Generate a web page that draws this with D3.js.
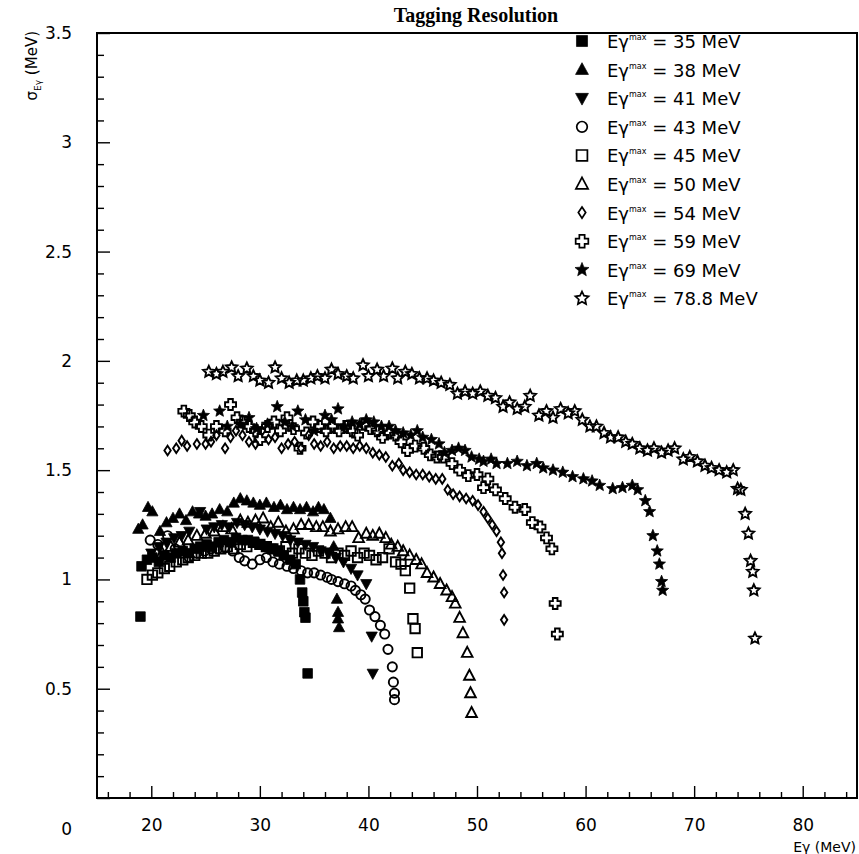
<!DOCTYPE html>
<html>
<head>
<meta charset="utf-8">
<script src="https://cdn.jsdelivr.net/npm/d3@7"></script>
<style>
body { margin: 0; background: #fff; }
svg text { font-family: "DejaVu Sans", "Liberation Sans", Arial, sans-serif; fill: #000; }
</style>
</head>
<body>
<svg id="drawing_region"></svg>
<script>
// beam end-point energies, one series each
const energies = ["35", "38", "41", "43", "45", "50", "54", "59", "69", "78.8"];
const markers = ["sqF", "triF", "triD", "circO", "sqO", "triO", "dia", "cross", "starF", "starO"];

// [E_gamma (MeV), sigma (MeV)]
const s35 = [[19.0,0.83],[19.1,1.06],[19.6,1.09],[20.1,1.10],[20.7,1.08],[21.2,1.11],[21.8,1.10],[22.3,1.12],[22.9,1.13],[23.4,1.12],[24.0,1.14],[24.5,1.15],[25.1,1.16],[25.6,1.15],[26.2,1.17],[26.7,1.18],[27.3,1.17],[27.8,1.19],[28.4,1.18],[28.9,1.18],[29.5,1.17],[30.0,1.16],[30.6,1.15],[31.1,1.14],[31.7,1.13],[32.2,1.11],[32.8,1.09],[33.3,1.07],[33.7,1.00],[33.9,0.94],[34.0,0.90],[34.1,0.85],[34.2,0.825],[34.4,0.57]];
const s38 = [[18.8,1.23],[19.2,1.25],[19.7,1.33],[20.1,1.31],[20.8,1.22],[21.4,1.26],[22.0,1.28],[22.6,1.30],[23.2,1.27],[23.8,1.31],[24.4,1.30],[25.0,1.29],[25.6,1.30],[26.3,1.32],[27.0,1.31],[27.6,1.35],[28.2,1.37],[28.8,1.36],[29.4,1.35],[30.0,1.34],[30.6,1.35],[31.3,1.33],[31.9,1.34],[32.5,1.32],[33.1,1.33],[33.7,1.32],[34.3,1.33],[34.9,1.31],[35.4,1.33],[35.9,1.32],[36.5,1.28],[36.8,1.15],[37.1,0.91],[37.2,0.85],[37.2,0.82],[37.3,0.78]];
const s41 = [[20.0,1.12],[20.7,1.15],[21.4,1.17],[22.1,1.19],[22.8,1.20],[23.5,1.22],[24.5,1.31],[25.1,1.23],[25.8,1.24],[26.5,1.25],[27.2,1.24],[27.9,1.26],[28.6,1.25],[29.3,1.24],[30.0,1.23],[30.7,1.22],[31.4,1.21],[32.1,1.20],[32.8,1.18],[33.5,1.17],[34.2,1.16],[34.9,1.15],[35.6,1.13],[36.3,1.12],[37.0,1.10],[37.7,1.08],[38.4,1.05],[39.0,1.02],[39.8,0.98],[40.3,0.74],[40.4,0.57]];
const s43 = [[19.9,1.18],[20.6,1.16],[21.5,1.20],[22.2,1.14],[22.8,1.12],[23.5,1.10],[24.2,1.12],[24.9,1.13],[25.5,1.14],[26.1,1.14],[26.8,1.145],[27.5,1.13],[28.1,1.10],[28.6,1.085],[29.3,1.07],[30.0,1.09],[30.6,1.10],[31.2,1.08],[31.8,1.07],[32.5,1.06],[33.1,1.05],[33.8,1.04],[34.4,1.03],[35.0,1.03],[35.6,1.02],[36.2,1.01],[36.6,1.00],[37.2,0.99],[37.8,0.98],[38.4,0.97],[38.8,0.95],[39.3,0.93],[39.7,0.91],[40.1,0.86],[40.6,0.83],[41.1,0.79],[41.5,0.75],[41.8,0.68],[42.2,0.60],[42.3,0.53],[42.4,0.48],[42.4,0.45]];
const s45 = [[19.6,1.00],[20.1,1.02],[20.6,1.03],[21.2,1.05],[21.7,1.06],[22.3,1.08],[22.9,1.09],[23.4,1.10],[24.0,1.11],[24.6,1.12],[25.2,1.12],[25.8,1.13],[26.4,1.14],[27.0,1.15],[27.6,1.14],[28.2,1.16],[28.8,1.15],[29.4,1.17],[30.0,1.16],[30.6,1.15],[31.2,1.14],[31.8,1.13],[32.4,1.15],[33.0,1.12],[33.6,1.14],[34.2,1.12],[34.8,1.11],[35.4,1.13],[36.0,1.12],[36.6,1.10],[37.2,1.12],[37.8,1.11],[38.4,1.13],[39.0,1.10],[39.6,1.12],[40.1,1.11],[40.7,1.09],[41.3,1.10],[41.9,1.14],[42.5,1.08],[43.0,1.07],[43.4,1.04],[43.8,0.96],[44.1,0.82],[44.3,0.775],[44.5,0.665]];
const s50 = [[21.0,1.12],[21.8,1.15],[22.6,1.17],[23.4,1.18],[24.2,1.20],[25.0,1.21],[25.8,1.22],[26.6,1.24],[27.4,1.23],[28.2,1.27],[28.9,1.26],[29.6,1.27],[30.3,1.28],[31.0,1.24],[31.7,1.26],[32.4,1.22],[33.1,1.23],[33.8,1.25],[34.5,1.25],[35.2,1.24],[35.8,1.24],[36.5,1.22],[37.2,1.23],[37.9,1.24],[38.5,1.24],[39.1,1.19],[39.8,1.21],[40.4,1.20],[41.0,1.21],[41.6,1.19],[42.1,1.16],[42.7,1.15],[43.2,1.13],[43.8,1.11],[44.4,1.09],[44.9,1.07],[45.4,1.03],[46.0,1.01],[46.6,0.98],[47.2,0.95],[47.7,0.92],[48.0,0.89],[48.4,0.825],[48.7,0.755],[49.1,0.665],[49.3,0.56],[49.4,0.48],[49.5,0.39]];
const s54 = [[21.5,1.59],[22.3,1.60],[22.8,1.635],[23.3,1.61],[24.2,1.62],[25.0,1.62],[25.5,1.63],[26.0,1.66],[26.8,1.60],[27.3,1.65],[27.8,1.68],[28.4,1.66],[29.0,1.63],[29.6,1.62],[30.2,1.68],[30.8,1.64],[31.4,1.65],[32.0,1.60],[32.6,1.62],[33.2,1.63],[33.8,1.60],[34.5,1.66],[35.0,1.62],[35.6,1.61],[36.2,1.63],[36.8,1.60],[37.4,1.61],[38.0,1.61],[38.6,1.60],[39.2,1.61],[39.8,1.60],[40.4,1.58],[41.0,1.57],[41.6,1.56],[42.2,1.52],[42.8,1.53],[43.2,1.50],[43.8,1.49],[44.4,1.48],[45.0,1.48],[45.6,1.47],[46.2,1.46],[46.8,1.46],[47.3,1.41],[47.8,1.39],[48.4,1.38],[49.0,1.37],[49.6,1.36],[50.1,1.34],[50.6,1.31],[51.0,1.28],[51.4,1.25],[51.8,1.22],[52.2,1.17],[52.3,1.12],[52.4,1.02],[52.5,0.94],[52.5,0.815]];
const s59 = [[23.0,1.77],[23.5,1.75],[24.0,1.72],[24.6,1.70],[25.3,1.66],[26.0,1.70],[26.8,1.68],[27.3,1.80],[27.9,1.74],[28.4,1.72],[29.0,1.70],[29.6,1.68],[30.0,1.64],[30.7,1.70],[31.3,1.72],[31.9,1.68],[32.5,1.74],[33.1,1.69],[33.7,1.60],[34.3,1.67],[34.9,1.72],[35.5,1.70],[36.1,1.68],[36.7,1.70],[37.3,1.68],[37.9,1.70],[38.5,1.68],[39.0,1.66],[39.6,1.71],[40.2,1.69],[40.8,1.68],[41.3,1.65],[41.9,1.67],[42.5,1.66],[43.0,1.63],[43.6,1.59],[44.3,1.61],[45.1,1.60],[45.7,1.57],[46.3,1.56],[46.9,1.56],[47.7,1.53],[48.4,1.50],[49.2,1.475],[50.0,1.48],[50.6,1.42],[51.0,1.46],[51.7,1.41],[52.6,1.37],[53.5,1.33],[54.4,1.32],[55.1,1.26],[55.8,1.24],[56.4,1.19],[56.9,1.14],[57.2,0.89],[57.4,0.75]];
const s69 = [[24.8,1.75],[26.3,1.77],[27.0,1.70],[28.2,1.71],[29.0,1.74],[29.7,1.69],[30.7,1.71],[31.6,1.79],[32.3,1.72],[33.0,1.70],[33.5,1.77],[34.2,1.73],[35.0,1.68],[36.0,1.75],[36.6,1.73],[37.2,1.78],[37.8,1.70],[38.5,1.72],[39.2,1.71],[39.8,1.73],[40.5,1.72],[41.2,1.70],[41.9,1.70],[42.5,1.68],[43.2,1.67],[43.9,1.66],[44.5,1.68],[45.0,1.65],[45.8,1.64],[46.5,1.62],[47.0,1.58],[47.7,1.59],[48.3,1.60],[48.9,1.59],[49.5,1.56],[50.2,1.55],[50.6,1.54],[51.3,1.55],[51.8,1.53],[52.8,1.53],[53.7,1.54],[54.6,1.52],[55.5,1.53],[56.1,1.51],[57.0,1.50],[57.9,1.49],[58.8,1.47],[59.8,1.46],[60.6,1.45],[61.3,1.43],[62.5,1.415],[63.4,1.42],[64.3,1.43],[64.8,1.41],[65.5,1.36],[65.9,1.31],[66.2,1.20],[66.6,1.13],[66.8,1.07],[67.0,0.99],[67.1,0.95]];
const s78 = [[25.3,1.95],[26.0,1.94],[26.6,1.95],[27.4,1.97],[28.0,1.93],[28.8,1.965],[29.4,1.93],[30.0,1.91],[30.8,1.90],[31.4,1.97],[32.0,1.92],[32.7,1.90],[33.4,1.91],[34.0,1.91],[34.7,1.92],[35.3,1.93],[36.0,1.92],[36.6,1.96],[37.2,1.94],[38.0,1.93],[38.6,1.92],[39.5,1.98],[40.0,1.93],[40.8,1.96],[41.4,1.93],[42.2,1.965],[42.7,1.92],[43.4,1.95],[44.0,1.94],[44.7,1.92],[45.4,1.92],[46.0,1.91],[46.7,1.90],[47.5,1.89],[48.2,1.85],[48.9,1.86],[49.6,1.85],[50.3,1.86],[51.0,1.84],[51.7,1.83],[52.4,1.79],[53.0,1.81],[53.7,1.78],[54.4,1.79],[54.9,1.84],[55.7,1.75],[56.4,1.77],[57.0,1.74],[57.7,1.78],[58.4,1.76],[59.0,1.77],[59.7,1.73],[60.4,1.70],[61.0,1.70],[61.7,1.67],[62.3,1.65],[63.0,1.65],[63.7,1.63],[64.3,1.62],[65.0,1.60],[65.7,1.59],[66.3,1.60],[67.0,1.58],[67.6,1.59],[68.2,1.60],[69.0,1.55],[69.6,1.56],[70.3,1.54],[71.0,1.52],[71.6,1.51],[72.3,1.50],[73.0,1.49],[73.6,1.50],[74.0,1.415],[74.3,1.41],[74.7,1.30],[75.0,1.21],[75.2,1.085],[75.4,1.035],[75.5,0.95],[75.6,0.73]];
const seriesData = [s35, s38, s41, s43, s45, s50, s54, s59, s69, s78];

const xTicks = [20, 30, 40, 50, 60, 70, 80];
const yTicks = [0, 0.5, 1, 1.5, 2, 2.5, 3, 3.5];

const config = {
    width: 859,
    height: 854,
    margin: {top: 33, right: 2, bottom: 56, left: 97}
};

const svg = d3.select('#drawing_region')
    .attr('width', config.width)
    .attr('height', config.height);

const inner_width = config.width - config.margin.left - config.margin.right;
const inner_height = config.height - config.margin.top - config.margin.bottom;

const chart = svg.append('g')
    .attr('transform', `translate(${config.margin.left}, ${config.margin.top})`);

const xscale = d3.scaleLinear().domain([15, 85]).range([0, inner_width]);
const yscale = d3.scaleLinear().domain([0, 3.5]).range([inner_height, 0]);

// minor ticks first, majors with labels on top (ticks point inward)
const xminor = d3.range(16, 85, 2).filter(v => v % 10 !== 0);
chart.append('g')
    .attr('transform', `translate(0, ${inner_height})`)
    .call(d3.axisBottom(xscale).tickValues(xminor).tickSize(-6).tickFormat(''))
    .call(g => g.select('.domain').remove());
chart.append('g')
    .attr('transform', `translate(0, ${inner_height})`)
    .call(d3.axisBottom(xscale).tickValues(xTicks).tickSize(-12).tickPadding(21).tickFormat(d => String(d)))
    .call(g => g.select('.domain').remove())
    .call(g => g.selectAll('text').style('font-size', '17px'));

const yminor = d3.range(1, 35).map(v => v / 10).filter(v => Math.abs(v * 2 - Math.round(v * 2)) > 1e-6);
chart.append('g')
    .call(d3.axisLeft(yscale).tickValues(yminor).tickSize(-7).tickFormat(''))
    .call(g => g.select('.domain').remove());
chart.append('g')
    .call(d3.axisLeft(yscale).tickValues(yTicks).tickSize(-13).tickPadding(25).tickFormat(d => String(d)))
    .call(g => g.select('.domain').remove())
    .call(g => g.selectAll('text').style('font-size', '17px'))
    .call(g => g.selectAll('.tick').filter(d => d === 0).select('text').attr('y', 31));

chart.selectAll('.tick line').attr('stroke', '#000').attr('stroke-width', 1.4);

// frame
chart.append('rect')
    .attr('width', inner_width)
    .attr('height', inner_height)
    .attr('fill', 'none')
    .attr('stroke', '#000')
    .attr('stroke-width', 2);

// marker shapes
function starPath(R, r) {
    let p = '';
    for (let i = 0; i < 10; i++) {
        const rad = i % 2 === 0 ? R : r;
        const ang = -Math.PI / 2 + i * Math.PI / 5;
        p += (i === 0 ? 'M' : 'L') + (rad * Math.cos(ang)).toFixed(2) + ',' + (rad * Math.sin(ang)).toFixed(2);
    }
    return p + 'Z';
}
const a = 2.3, L = 5.5;
const shapes = {
    sqF:   {d: 'M-4.8,-4.8H4.8V4.8H-4.8Z', fill: true},
    triF:  {d: 'M0,-6L5.6,4.2H-5.6Z', fill: true},
    triD:  {d: 'M0,6L5.6,-4.2H-5.6Z', fill: true},
    circO: {d: d3.arc()({innerRadius: 0, outerRadius: 4.6, startAngle: 0, endAngle: 2 * Math.PI}), fill: false},
    sqO:   {d: 'M-4.7,-4.7H4.7V4.7H-4.7Z', fill: false},
    triO:  {d: 'M0,-5.8L5.3,4.2H-5.3Z', fill: false},
    dia:   {d: 'M0,-4.8L3.2,0L0,4.8L-3.2,0Z', fill: false},
    cross: {d: `M${-a},${-L}H${a}V${-a}H${L}V${a}H${a}V${L}H${-a}V${a}H${-L}V${-a}H${-a}Z`, fill: false},
    starF: {d: starPath(6.4, 2.8), fill: true},
    starO: {d: starPath(6, 2.9), fill: false}
};

const points = chart.append('g');
seriesData.forEach((data, i) => {
    const sh = shapes[markers[i]];
    points.append('g')
        .selectAll('path')
        .data(data)
        .enter()
        .append('path')
        .attr('d', sh.d)
        .attr('transform', d => `translate(${xscale(d[0])}, ${yscale(d[1])})`)
        .attr('fill', sh.fill ? '#000' : 'none')
        .attr('stroke', '#000')
        .attr('stroke-width', sh.fill ? 0.8 : 1.9);
});

// legend
const legend = svg.append('g').attr('transform', 'translate(582, 41)');
energies.forEach((e, i) => {
    const sh = shapes[markers[i]];
    const row = legend.append('g').attr('transform', `translate(0, ${i * 28.6})`);
    row.append('path')
        .attr('d', sh.d)
        .attr('transform', 'scale(1.15)')
        .attr('fill', sh.fill ? '#000' : 'none')
        .attr('stroke', '#000')
        .attr('stroke-width', sh.fill ? 0.6 : 1.5);
    const t = row.append('text')
        .attr('x', 25)
        .attr('y', 7)
        .style('font-size', '18px');
    t.append('tspan').text('Eγ');
    t.append('tspan').attr('dy', -8).style('font-size', '8px').text('max');
    t.append('tspan').attr('dy', 8).text(` = ${e} MeV`);
});

// title and axis labels
svg.append('text')
    .attr('x', 476)
    .attr('y', 22)
    .attr('text-anchor', 'middle')
    .style('font-family', '"Liberation Serif", "Times New Roman", serif')
    .style('font-weight', 'bold')
    .style('font-size', '20px')
    .text('Tagging Resolution');

svg.append('text')
    .attr('x', 856)
    .attr('y', 852)
    .attr('text-anchor', 'end')
    .style('font-size', '14px')
    .text('Eγ (MeV)');

const ylab = svg.append('text')
    .attr('transform', 'translate(37, 31) rotate(-90)')
    .attr('text-anchor', 'end')
    .style('font-size', '15px');
ylab.append('tspan').text('σ');
ylab.append('tspan').attr('dy', 4).style('font-size', '9px').text('Eγ');
ylab.append('tspan').attr('dy', -4).text(' (MeV)');
</script>
</body>
</html>
